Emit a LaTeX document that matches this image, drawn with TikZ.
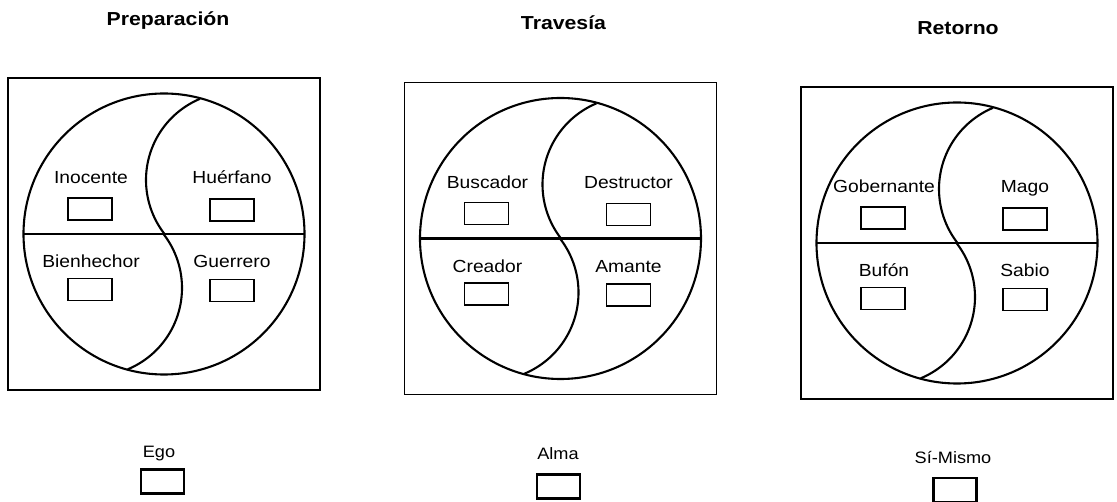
\documentclass[tikz,border=0pt]{standalone}
\usepackage{fontspec}
\setmainfont{Liberation Sans}
\newfontfamily\lblfont[FakeStretch=1.1]{Liberation Sans}
\newfontfamily\ttlfont[FakeStretch=1.13]{Liberation Sans}
\tikzset{
  frame/.style={draw, line width=1.9pt, minimum width=312pt, minimum height=312pt, inner sep=0pt, outer sep=0pt},
  disc/.style={draw, circle, line width=2.1pt, minimum size=281pt, inner sep=0pt, outer sep=0pt},
  rule/.style={line width=2.1pt},
  lbl/.style={anchor=base, inner sep=0pt, font=\lblfont\fontsize{17.5}{20}\selectfont},
  ttl/.style={anchor=base, inner sep=0pt, font=\ttlfont\bfseries\fontsize{18.8}{22}\selectfont},
  btm/.style={anchor=base, inner sep=0pt, font=\lblfont\fontsize{16.5}{19}\selectfont},
  slot/.style={draw, line width=1.8pt, minimum width=44pt, minimum height=22pt, inner sep=0pt},
  bigslot/.style={draw, line width=2.2pt, minimum width=43pt, minimum height=24pt, inner sep=0pt}
}
\newcommand\yyPanel[7]{%
  \node[frame] (#3frame) at (#1,#2) {};
  \node[disc] (#3disc) at (#1,#2) {};
  \draw[rule] (#3disc.west) -- (#3disc.east);
  \draw[rule] plot[domain=142.4:247.2, samples=60] ({#1+70+88*cos(\x)},{#2-54+88*sin(\x)});
  \draw[rule] plot[domain=-37.6:67.5, samples=60] ({#1-70+88*cos(\x)},{#2+54+88*sin(\x)});
  \node[lbl] (#3a) at (#1-73,#2-50) {#4};
  \node[lbl] (#3b) at (#1+68,#2-50) {#5};
  \node[lbl] (#3c) at (#1-73,#2+34) {#6};
  \node[lbl] (#3d) at (#1+68,#2+34) {#7};
  \node[slot] (#3as) at (#1-74,#2-25) {};
  \node[slot] (#3bs) at (#1+68,#2-24) {};
  \node[slot] (#3cs) at (#1-74,#2+55.5) {};
  \node[slot] (#3ds) at (#1+68,#2+56.5) {};
}
\begin{document}
\begin{tikzpicture}[x=1pt,y=-1pt]
\useasboundingbox (0,0) rectangle (1117,502);
\yyPanel{164}{234}{p}{Inocente}{Huérfano}{Bienhechor}{Guerrero}
\yyPanel{560.5}{238.5}{t}{Buscador}{Destructor}{Creador}{Amante}
\yyPanel{957}{243}{r}{Gobernante}{Mago}{Bufón}{Sabio}
\node[ttl] (tp) at (168,26) {Preparación};
\node[ttl] (tt) at (563.5,30) {Travesía};
\node[ttl] (tr) at (958,35) {Retorno};
\node[btm] (ego) at (159,457.5) {Ego};
\node[btm] (alma) at (558,460) {Alma};
\node[btm] (si) at (953,464) {Sí-Mismo};
\node[bigslot] (egos) at (162.5,481.5) {};
\node[bigslot] (almas) at (558.5,486.5) {};
\node[bigslot] (sis) at (955,490) {};
\end{tikzpicture}
\end{document}
